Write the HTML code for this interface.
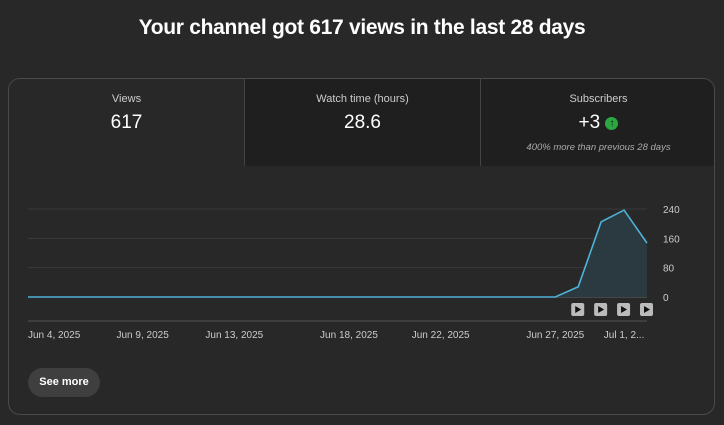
<!DOCTYPE html>
<html><head><meta charset="utf-8"><style>
body{margin:0;width:724px;height:425px;background:#282828;font-family:"Liberation Sans",sans-serif;color:#fff;overflow:hidden;position:relative}
.title{position:absolute;top:16px;left:0;width:724px;text-align:center;font-size:21px;font-weight:bold;letter-spacing:-0.3px}
.card{position:absolute;left:8px;top:78px;width:707px;height:337px;border:1px solid #4a4a4a;border-radius:12px;box-sizing:border-box;overflow:hidden}
.tab{position:absolute;top:0;height:87px;text-align:center;box-sizing:border-box}
.tab .l{font-size:11px;color:#ccc;margin-top:14px}
.tab .v{font-size:19px;margin-top:7px}
.tab .s{font-size:9.5px;color:#aaa;font-style:italic;margin-top:8px}
.btn{position:absolute;left:28px;top:368px;width:72px;height:29px;border-radius:15px;background:#3f3f3f;font-size:11px;font-weight:bold;text-align:center;line-height:29px}
</style></head><body>
<div class="title">Your channel got 617 views in the last 28 days</div>
<div class="card">
 <div class="tab" style="left:0;width:235px;background:#282828"><div class="l">Views</div><div class="v">617</div></div>
 <div class="tab" style="left:235px;width:236px;background:#1f1f1f;border-left:1px solid #444"><div class="l">Watch time (hours)</div><div class="v">28.6</div></div>
 <div class="tab" style="left:471px;width:236px;background:#1f1f1f;border-left:1px solid #444"><div class="l">Subscribers</div><div class="v">+3 <span style="display:inline-block;width:13px;height:13px;border-radius:50%;background:#2ba640;color:#111;font-size:10px;line-height:13px;vertical-align:2px;font-weight:bold">↑</span></div><div class="s">400% more than previous 28 days</div></div>
</div>
<svg id="chart" width="724" height="425" style="position:absolute;left:0;top:0"></svg>
<div class="btn">See more</div>
<script>
const values=[0,0,0,0,0,0,0,0,0,0,0,0,0,0,0,0,0,0,0,0,0,0,0,0,28,205,237,147];
const yTicks=[0,80,160,240];
const xLabels=["Jun 4, 2025","Jun 9, 2025","Jun 13, 2025","Jun 18, 2025","Jun 22, 2025","Jun 27, 2025","Jul 1, 2..."];
const xLabelIdx=[0,5,9,14,18,23,26];
const NS="http://www.w3.org/2000/svg",svg=document.getElementById('chart');
const x0=28,x1=647,y0=297,y240=209;
const X=i=>x0+i*(x1-x0)/(values.length-1);
const Y=v=>y0-(v/240)*(y0-y240);
function mk(t,a){const e=document.createElementNS(NS,t);for(const k in a)e.setAttribute(k,a[k]);svg.appendChild(e);return e;}
yTicks.forEach(t=>{
 const g=mk('line',{x1:x0,x2:x1,y1:Y(t),y2:Y(t),stroke:t?'#3a3a3a':'#666','stroke-width':1});
 
 
 const l=mk('text',{x:663,y:Y(t)+4,fill:'#ccc','font-size':10,'font-family':'Liberation Sans'});l.textContent=t;
 
 
});
let pts=values.map((v,i)=>X(i)+','+Y(v)).join(' ');
const area=mk('polygon',{points:x0+','+y0+' '+pts+' '+x1+','+y0,fill:'#2b3a40'});


const line=mk('polyline',{points:pts,fill:'none',stroke:'#4fb3d9','stroke-width':1.6});


const ax=mk('line',{x1:x0,x2:x1,y1:321,y2:321,stroke:'#555'});


xLabels.forEach((s,k)=>{
 const i=xLabelIdx[k];
 const t=mk('text',{x:k==0?x0:X(i),y:338,fill:'#ccc','font-size':10,'font-family':'Liberation Sans','text-anchor':k==0?'start':'middle'});t.textContent=s;
 
 
});
[24,25,26,27].forEach(i=>{
 const cx=X(i)-1;
 const r=mk('rect',{x:cx-6,y:303,width:13,height:13,rx:2,fill:'#bbb'});
 
 
 mk('polygon',{points:(cx-2)+',306 '+(cx-2)+',313 '+(cx+4)+',309.5',fill:'#111'});
});
</script>
</body></html>
